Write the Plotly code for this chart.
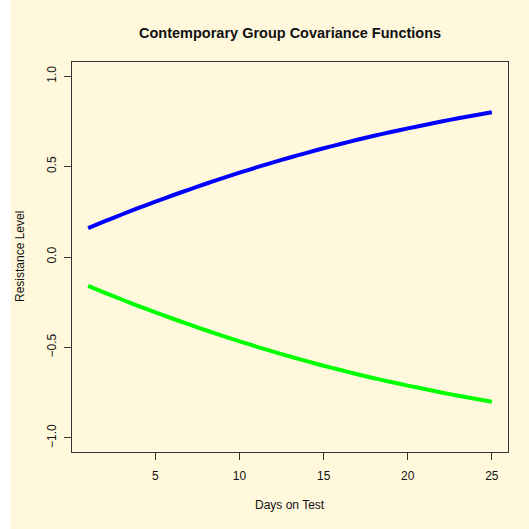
import plotly.graph_objects as go

# Days on test and the two covariance function curves
days = list(range(1, 26))
upper_curve = [0.160, 0.198, 0.235, 0.271, 0.306, 0.340, 0.373, 0.405, 0.436, 0.466,
               0.495, 0.523, 0.550, 0.576, 0.601, 0.625, 0.648, 0.670, 0.691, 0.711,
               0.730, 0.749, 0.767, 0.784, 0.800]
lower_curve = [-0.160, -0.198, -0.235, -0.271, -0.306, -0.340, -0.373, -0.405, -0.436, -0.466,
               -0.495, -0.523, -0.550, -0.576, -0.601, -0.625, -0.648, -0.670, -0.691, -0.711,
               -0.730, -0.749, -0.767, -0.784, -0.800]

x_ticks = [5, 10, 15, 20, 25]
y_ticks = [-1.0, -0.5, 0.0, 0.5, 1.0]
y_tick_text = ["\u22121.0", "\u22120.5", "0.0", "0.5", "1.0"]

W, H = 529, 529
L, R, T, B = 72, 21, 62, 77
bg = "#FFF8DC"
font = "Liberation Sans, Arial, Helvetica, sans-serif"
ink = "#111111"

fig = go.Figure()
fig.add_trace(go.Scatter(x=days, y=upper_curve, mode="lines",
                         line=dict(color="#0000FF", width=4, shape="spline", smoothing=0.6),
                         showlegend=False))
fig.add_trace(go.Scatter(x=days, y=lower_curve, mode="lines",
                         line=dict(color="#00FF00", width=4, shape="spline", smoothing=0.6),
                         showlegend=False))

pw = W - L - R
ph = H - T - B
fig.update_layout(
    width=W, height=H,
    margin=dict(l=L, r=R, t=T, b=B),
    paper_bgcolor=bg, plot_bgcolor=bg,
    font=dict(family=font, size=12, color=ink),
    showlegend=False,
    xaxis=dict(range=[0.04, 25.96], tickvals=x_ticks, ticks="outside", ticklen=7,
               tickangle=0, ticklabelstandoff=6,
               tickcolor="#333333", showgrid=False, zeroline=False,
               showline=True, linecolor="#333333", linewidth=1, mirror=True,
               tickfont=dict(size=12, color=ink)),
    yaxis=dict(range=[-1.078, 1.078], tickvals=y_ticks, ticktext=y_tick_text,
               ticks="outside", ticklen=7, tickangle=-90, ticklabelstandoff=3,
               tickcolor="#333333", showgrid=False, zeroline=False,
               showline=True, linecolor="#333333", linewidth=1, mirror=True,
               tickfont=dict(size=12, color=ink)),
    annotations=[
        dict(text="<b>Contemporary Group Covariance Functions</b>", xref="paper", yref="paper",
             x=0.5, y=1 + (T - 33) / ph, xanchor="center", yanchor="middle",
             showarrow=False, font=dict(size=14.5, color=ink)),
        dict(text="Days on Test", xref="paper", yref="paper",
             x=0.5, y=-(505 - (H - B)) / ph, xanchor="center", yanchor="middle",
             showarrow=False, font=dict(size=12, color=ink)),
        dict(text="Resistance Level", xref="paper", yref="paper",
             x=-(L - 20) / pw, y=0.5, xanchor="center", yanchor="middle", textangle=-90,
             showarrow=False, font=dict(size=12, color=ink)),
    ],
    shapes=[
        dict(type="rect", xref="paper", yref="paper", x0=-L / pw - 0.01, x1=-(L - 11) / pw,
             y0=-1, y1=2, fillcolor="#FFFFFF", line=dict(width=0), layer="below"),
    ],
)

fig.write_html("out.html")
